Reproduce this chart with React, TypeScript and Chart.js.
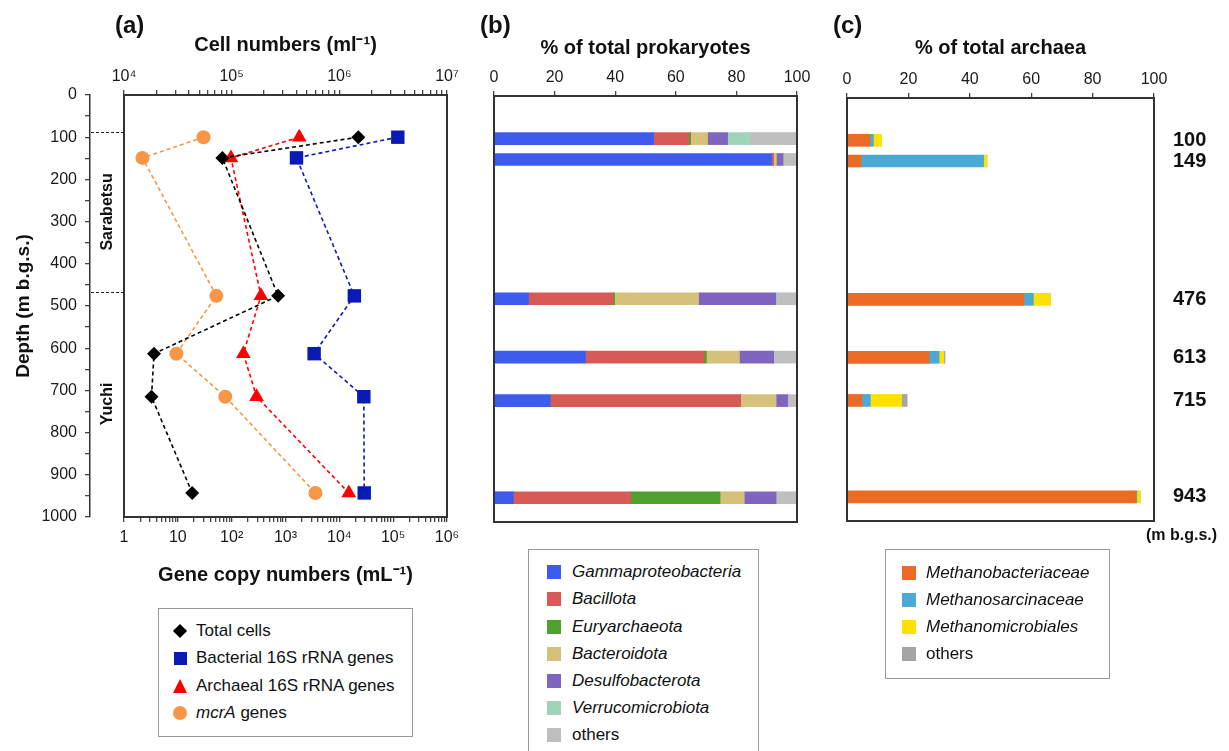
import React, { useEffect, useRef } from 'react';
import { Chart, registerables } from 'chart.js';

Chart.register(...registerables);

const FONT = "'Liberation Sans', Arial, Helvetica, sans-serif";
Chart.defaults.font.family = FONT;
Chart.defaults.color = '#1a1a1a';

// ---------------- data ----------------
const depths = [100, 149, 476, 613, 715, 943];

// panel (a)
const totalCells = [1.5e6, 8.2e4, 2.7e5, 1.9e4, 1.8e4, 4.3e4]; // cells per ml (top axis)
const bacterial16S = [1.22e5, 1.6e3, 1.9e4, 3.4e3, 2.85e4, 2.9e4]; // copies per mL
const archaeal16S = [1.8e3, 97, 350, 165, 290, 1.5e4];
const mcrAGenes = [30, 2.2, 52, 9.4, 76, 3.6e3];

const formationBoundaries = [88, 467];
const formationNames = ['Sarabetsu', 'Yuchi'];
const formationLabelDepths = [277, 732];

// panel (b) % of total prokaryotes
const prokaryoteGroups = [
  'Gammaproteobacteria',
  'Bacillota',
  'Euryarchaeota',
  'Bacteroidota',
  'Desulfobacterota',
  'Verrucomicrobiota',
  'others',
];
const prokaryoteColors = ['#3E5BEF', '#D85A57', '#4FA02F', '#D5C179', '#7E65BF', '#A0D3BA', '#BFBFBF'];
const gammaproteobacteria = [52.7, 91.6, 11.4, 30.2, 18.6, 6.4];
const bacillota = [11.6, 0.6, 27.9, 39.1, 62.8, 38.7];
const euryarchaeota = [0.6, 0, 0.5, 0.8, 0, 29.5];
const bacteroidota = [5.6, 1.0, 27.7, 10.9, 11.7, 8.0];
const desulfobacterota = [6.6, 2.2, 25.5, 11.3, 3.8, 10.5];
const verrucomicrobiota = [7.3, 0.2, 0.2, 0, 0, 0.1];
const otherProkaryotes = [15.6, 4.4, 6.8, 7.7, 3.1, 6.8];

// panel (c) % of total archaea
const archaeaGroups = ['Methanobacteriaceae', 'Methanosarcinaceae', 'Methanomicrobiales', 'others'];
const archaeaColors = ['#EB6A25', '#4BA9D5', '#FFE100', '#A5A5A5'];
const methanobacteriaceae = [7.5, 4.6, 57.6, 26.7, 4.9, 94.1];
const methanosarcinaceae = [1.1, 39.9, 3.1, 3.3, 2.7, 0.3];
const methanomicrobiales = [2.7, 1.1, 5.6, 1.5, 10.2, 1.1];
const otherArchaea = [0, 0, 0, 0.4, 1.8, 0];

const prokaryoteSeries = [
  gammaproteobacteria,
  bacillota,
  euryarchaeota,
  bacteroidota,
  desulfobacterota,
  verrucomicrobiota,
  otherProkaryotes,
];
const archaeaSeries = [methanobacteriaceae, methanosarcinaceae, methanomicrobiales, otherArchaea];

// ---------------- helpers ----------------
const SUP: Record<string, string> = {
  '0': '⁰', '1': '¹', '2': '²', '3': '³', '4': '⁴', '5': '⁵', '6': '⁶', '7': '⁷', '8': '⁸', '9': '⁹',
};
function powLabel(v: number): string {
  const l = Math.log10(v);
  const e = Math.round(l);
  if (Math.abs(l - e) > 1e-9) return '';
  if (e === 0) return '1';
  if (e === 1) return '10';
  return '10' + String(e).split('').map((c) => SUP[c]).join('');
}
function logTicks(min: number, max: number) {
  const t: { value: number; major: boolean }[] = [];
  const e0 = Math.round(Math.log10(min));
  const e1 = Math.round(Math.log10(max));
  for (let e = e0; e < e1; e++) {
    for (let m = 1; m < 10; m++) t.push({ value: m * Math.pow(10, e), major: m === 1 });
  }
  t.push({ value: max, major: true });
  return t;
}

const AXIS_COLOR = '#333';

const boxPlugin = {
  id: 'frameBox',
  afterDraw(chart: any) {
    const { ctx, chartArea: a } = chart;
    ctx.save();
    ctx.strokeStyle = AXIS_COLOR;
    ctx.lineWidth = 2;
    ctx.strokeRect(a.left, a.top, a.right - a.left, a.bottom - a.top);
    ctx.restore();
  },
};

const formationPlugin = {
  id: 'formations',
  afterDraw(chart: any) {
    const { ctx } = chart;
    const s = chart.scales.yIn;
    ctx.save();
    ctx.strokeStyle = '#222';
    ctx.lineWidth = 1.2;
    ctx.setLineDash([3, 2]);
    formationBoundaries.forEach((d) => {
      const py = Math.round(s.getPixelForValue(d)) + 0.5;
      ctx.beginPath();
      ctx.moveTo(s.left + 1, py);
      ctx.lineTo(s.right, py);
      ctx.stroke();
    });
    ctx.setLineDash([]);
    ctx.fillStyle = '#111';
    ctx.font = `bold 16px ${FONT}`;
    ctx.textAlign = 'center';
    ctx.textBaseline = 'middle';
    formationNames.forEach((n, i) => {
      const py = s.getPixelForValue(formationLabelDepths[i]);
      ctx.save();
      ctx.translate((s.left + s.right) / 2 + 1, py);
      ctx.rotate(-Math.PI / 2);
      ctx.fillText(n, 0, 0);
      ctx.restore();
    });
    ctx.restore();
  },
};

function lineSet(label: string, values: number[], color: string, style: string, radius: number, axis: string) {
  return {
    label,
    data: depths.map((d, i) => ({ x: values[i], y: d })),
    xAxisID: axis,
    yAxisID: 'y',
    showLine: true,
    borderColor: color,
    backgroundColor: color,
    borderDash: [4, 3],
    borderWidth: 1.6,
    pointStyle: style,
    pointRadius: radius,
    pointBorderWidth: 0,
    pointBackgroundColor: color,
  };
}

function configA(): any {
  return {
    type: 'scatter',
    data: {
      datasets: [
        lineSet('Total cells', totalCells, '#000000', 'rectRot', 7, 'x2'),
        lineSet('Bacterial 16S rRNA genes', bacterial16S, '#0A1AB5', 'rect', 9.5, 'x'),
        lineSet('Archaeal 16S rRNA genes', archaeal16S, '#FF0000', 'triangle', 8.5, 'x'),
        lineSet('mcrA genes', mcrAGenes, '#F79646', 'circle', 7, 'x'),
      ],
    },
    options: {
      responsive: false,
      animation: false,
      devicePixelRatio: 1,
      layout: { padding: { left: 0, right: 23, top: 0, bottom: 0 } },
      plugins: { legend: { display: false }, tooltip: { enabled: false } },
      scales: {
        x2: {
          type: 'logarithmic',
          position: 'top',
          min: 1e4,
          max: 1e7,
          afterBuildTicks: (s: any) => {
            s.ticks = logTicks(1e4, 1e7);
          },
          ticks: { callback: (v: number) => powLabel(v), autoSkip: false, maxRotation: 0, font: { size: 16 }, color: '#1a1a1a', padding: 4 },
          grid: { drawOnChartArea: false, tickLength: 5, color: '#444', lineWidth: 1.3 },
          border: { color: AXIS_COLOR, width: 2 },
          title: { display: true, text: 'Cell numbers (ml⁻¹)', font: { size: 20, weight: 'bold' }, color: '#111', padding: { top: 33, bottom: 0 } },
          afterFit: (s: any) => {
            s.height = 95;
          },
        },
        x: {
          type: 'logarithmic',
          position: 'bottom',
          min: 1,
          max: 1e6,
          afterBuildTicks: (s: any) => {
            s.ticks = logTicks(1, 1e6);
          },
          ticks: { callback: (v: number) => powLabel(v), autoSkip: false, maxRotation: 0, font: { size: 16 }, color: '#1a1a1a', padding: 6 },
          grid: { drawOnChartArea: false, tickLength: 5, color: '#444', lineWidth: 1.3 },
          border: { color: AXIS_COLOR, width: 2 },
          title: { display: true, text: 'Gene copy numbers (mL⁻¹)', font: { size: 20, weight: 'bold' }, color: '#111', padding: { top: 0, bottom: 13 } },
          afterFit: (s: any) => {
            s.height = 83;
          },
        },
        y: {
          type: 'linear',
          position: 'left',
          weight: 1,
          reverse: true,
          min: 0,
          max: 1000,
          ticks: {
            stepSize: 50,
            autoSkip: false,
            callback: (v: number) => (v % 100 === 0 ? String(v) : ''),
            font: { size: 16 },
            color: '#1a1a1a',
            padding: 8,
          },
          grid: { drawOnChartArea: false, tickLength: 5, color: '#444', lineWidth: 1.3 },
          border: { color: AXIS_COLOR, width: 1.5 },
          title: { display: true, text: 'Depth (m b.g.s.)', font: { size: 19, weight: 'bold' }, color: '#111', padding: { top: 12, bottom: 0 } },
          afterFit: (s: any) => {
            s.width = 90;
          },
        },
        yIn: {
          type: 'linear',
          position: 'left',
          weight: 0,
          reverse: true,
          min: 0,
          max: 1000,
          ticks: { display: false },
          grid: { display: false, drawTicks: false },
          border: { display: true, color: AXIS_COLOR, width: 2 },
          afterFit: (s: any) => {
            s.width = 34;
          },
        },
      },
    },
    plugins: [boxPlugin, formationPlugin],
  };
}

function barConfig(
  series: number[][],
  names: string[],
  colors: string[],
  title: string,
  padding: any,
  xHeight: number,
  rightLabels: boolean,
): any {
  return {
    type: 'bar',
    data: {
      datasets: series.map((vals, k) => ({
        label: names[k],
        data: depths.map((d, i) => ({ x: vals[i], y: d })),
        backgroundColor: colors[k],
        borderWidth: 0,
        barThickness: 12,
      })),
    },
    options: {
      indexAxis: 'y',
      responsive: false,
      animation: false,
      devicePixelRatio: 1,
      layout: { padding },
      plugins: { legend: { display: false }, tooltip: { enabled: false } },
      scales: {
        x: {
          type: 'linear',
          position: 'top',
          stacked: true,
          min: 0,
          max: 100,
          ticks: { stepSize: 20, font: { size: 16 }, color: '#1a1a1a', padding: 4, maxRotation: 0 },
          grid: { drawOnChartArea: false, tickLength: 5, color: '#444', lineWidth: 1.3 },
          border: { color: AXIS_COLOR, width: 2 },
          title: { display: true, text: title, font: { size: 20, weight: 'bold' }, color: '#111', padding: { top: 36, bottom: 0 } },
          afterFit: (s: any) => {
            s.height = xHeight;
          },
        },
        y: {
          type: 'linear',
          position: 'right',
          display: rightLabels,
          offset: false,
          stacked: true,
          reverse: true,
          min: 0,
          max: 1000,
          afterBuildTicks: (s: any) => {
            s.ticks = depths.map((v) => ({ value: v }));
          },
          ticks: { callback: (v: number) => String(v), autoSkip: false, font: { size: 20, weight: 'bold' }, color: '#111', padding: 19 },
          grid: { display: false, drawTicks: false, offset: false },
          border: { display: false },
          afterFit: rightLabels
            ? (s: any) => {
                s.width = 75;
              }
            : undefined,
        },
      },
    },
    plugins: [boxPlugin],
  };
}

// ---------------- legend pieces ----------------
function Marker({ kind, color }: { kind: string; color: string }) {
  let el: React.CSSProperties = {};
  if (kind === 'diamond') el = { width: 10, height: 10, background: color, transform: 'rotate(45deg)' };
  else if (kind === 'square') el = { width: 13, height: 13, background: color };
  else if (kind === 'triangle')
    el = { width: 0, height: 0, borderLeft: '7px solid transparent', borderRight: '7px solid transparent', borderBottom: `14px solid ${color}` };
  else if (kind === 'circle') el = { width: 14, height: 14, borderRadius: '50%', background: color };
  else el = { width: 14, height: 14, background: color };
  return <div style={el} />;
}

const legendAItems = [
  { label: 'Total cells', kind: 'diamond', color: '#000000' },
  { label: 'Bacterial 16S rRNA genes', kind: 'square', color: '#0A1AB5' },
  { label: 'Archaeal 16S rRNA genes', kind: 'triangle', color: '#FF0000' },
  { label: 'mcrA genes', kind: 'circle', color: '#F79646' },
];

function Text({ left, cy, size, bold, italic, children, lh = 24 }: any) {
  return (
    <div
      style={{
        position: 'absolute',
        left,
        top: cy - lh / 2,
        height: lh,
        lineHeight: `${lh}px`,
        fontSize: size,
        fontWeight: bold ? 'bold' : 'normal',
        fontStyle: italic ? 'italic' : 'normal',
        whiteSpace: 'nowrap',
        color: '#111',
      }}
    >
      {children}
    </div>
  );
}

export default function App() {
  const refA = useRef<HTMLCanvasElement>(null);
  const refB = useRef<HTMLCanvasElement>(null);
  const refC = useRef<HTMLCanvasElement>(null);

  useEffect(() => {
    const charts = [
      new Chart(refA.current!, configA()),
      new Chart(
        refB.current!,
        barConfig(prokaryoteSeries, prokaryoteGroups, prokaryoteColors, '% of total prokaryotes', { left: 14, right: 23, top: 0, bottom: 23 }, 96, false),
      ),
      new Chart(
        refC.current!,
        barConfig(archaeaSeries, archaeaGroups, archaeaColors, '% of total archaea', { left: 17, right: 0, top: 0, bottom: 31 }, 98, true),
      ),
    ];
    return () => charts.forEach((c) => c.destroy());
  }, []);

  const legendRowsA = [631, 658, 686, 713];
  const legendRowsB = [572, 599, 626.5, 653.5, 681, 707.5, 735];
  const legendRowsC = [573, 600, 627, 654];

  return (
    <div
      style={{
        position: 'absolute',
        left: 0,
        top: 0,
        width: 1229,
        height: 751,
        overflow: 'hidden',
        background: '#ffffff',
        fontFamily: FONT,
      }}
    >
      <canvas ref={refA} width={470} height={600} style={{ position: 'absolute', left: 0, top: 0, width: 470, height: 600 }} />
      <canvas ref={refB} width={340} height={545} style={{ position: 'absolute', left: 480, top: 0, width: 340, height: 545 }} />
      <canvas ref={refC} width={399} height={552} style={{ position: 'absolute', left: 830, top: 0, width: 399, height: 552 }} />

      <Text left={115} cy={25} size={24} bold lh={30}>(a)</Text>
      <Text left={480} cy={25} size={24} bold lh={30}>(b)</Text>
      <Text left={833} cy={25} size={24} bold lh={30}>(c)</Text>
      <Text left={1146} cy={535} size={16} bold>(m b.g.s.)</Text>

      {/* legend (a) */}
      <div style={{ position: 'absolute', left: 158, top: 608, width: 255, height: 129, border: '1.5px solid #999', boxSizing: 'border-box' }} />
      {legendAItems.map((it, i) => (
        <React.Fragment key={it.label}>
          <div style={{ position: 'absolute', left: 172, top: legendRowsA[i] - 8, width: 16, height: 16, display: 'flex', alignItems: 'center', justifyContent: 'center' }}>
            <Marker kind={it.kind} color={it.color} />
          </div>
          <Text left={196} cy={legendRowsA[i]} size={17}>
            {it.label === 'mcrA genes' ? (
              <>
                <i>mcrA</i> genes
              </>
            ) : (
              it.label
            )}
          </Text>
        </React.Fragment>
      ))}

      {/* legend (b) */}
      <div style={{ position: 'absolute', left: 528, top: 549, width: 231, height: 220, border: '1.5px solid #999', boxSizing: 'border-box' }} />
      {prokaryoteGroups.map((g, i) => (
        <React.Fragment key={g}>
          <div style={{ position: 'absolute', left: 547, top: legendRowsB[i] - 7, width: 14, height: 14, background: prokaryoteColors[i] }} />
          <Text left={572} cy={legendRowsB[i]} size={17} italic={g !== 'others'}>
            {g}
          </Text>
        </React.Fragment>
      ))}

      {/* legend (c) */}
      <div style={{ position: 'absolute', left: 885, top: 549, width: 225, height: 130, border: '1.5px solid #999', boxSizing: 'border-box' }} />
      {archaeaGroups.map((g, i) => (
        <React.Fragment key={g}>
          <div style={{ position: 'absolute', left: 902, top: legendRowsC[i] - 7, width: 14, height: 14, background: archaeaColors[i] }} />
          <Text left={926} cy={legendRowsC[i]} size={17} italic={g !== 'others'}>
            {g}
          </Text>
        </React.Fragment>
      ))}
    </div>
  );
}
